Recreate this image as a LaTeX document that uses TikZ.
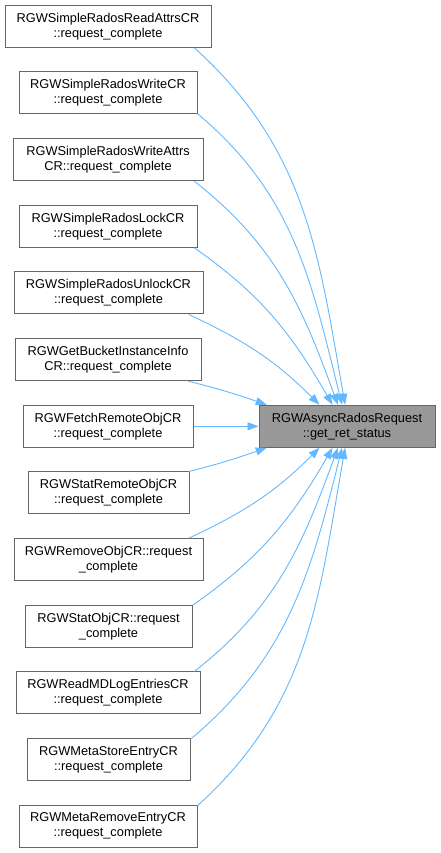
\documentclass[tikz,border=0pt]{standalone}
\usepackage{fontspec}
\setmainfont{Liberation Sans}
\usetikzlibrary{arrows.meta}
\definecolor{edgeblue}{HTML}{63B8FF}
\definecolor{boxgray}{HTML}{666666}
\definecolor{maingray}{HTML}{999999}

\begin{document}
\begin{tikzpicture}[x=1pt,y=1pt,
    caller/.style={draw=boxgray,line width=1pt,fill=white,align=center,inner sep=0pt,minimum height=42pt,font=\fontsize{12.8}{15}\selectfont},
    callee/.style={caller,fill=maingray},
    callarrow/.style={edgeblue,line width=0.9pt,-{Triangle[length=11pt,width=8pt]}}]
  \useasboundingbox (0,0) rectangle (440,853);
  % Callers
  \node[caller,minimum width=206pt] (readattrs) at (108,826.7) {RGWSimpleRadosReadAttrsCR\\::request\_complete};
  \node[caller,minimum width=178pt] (write) at (108,760) {RGWSimpleRadosWriteCR\\::request\_complete};
  \node[caller,minimum width=190pt] (writeattrs) at (108,693.3) {RGWSimpleRadosWriteAttrs\\CR::request\_complete};
  \node[caller,minimum width=178pt] (lock) at (108,626.7) {RGWSimpleRadosLockCR\\::request\_complete};
  \node[caller,minimum width=189pt] (unlock) at (108.5,560) {RGWSimpleRadosUnlockCR\\::request\_complete};
  \node[caller,minimum width=186pt] (bucketinfo) at (108,493.3) {RGWGetBucketInstanceInfo\\CR::request\_complete};
  \node[caller,minimum width=170pt] (fetchremote) at (108,426.7) {RGWFetchRemoteObjCR\\::request\_complete};
  \node[caller,minimum width=161pt] (statremote) at (108.5,360) {RGWStatRemoteObjCR\\::request\_complete};
  \node[caller,minimum width=189pt] (removeobj) at (108.5,293.3) {RGWRemoveObjCR::request\\\_complete};
  \node[caller,minimum width=167pt] (statobj) at (108.5,226.7) {RGWStatObjCR::request\\\_complete};
  \node[caller,minimum width=184pt] (readmdlog) at (108,160) {RGWReadMDLogEntriesCR\\::request\_complete};
  \node[caller,minimum width=163pt] (metastore) at (108.5,93.3) {RGWMetaStoreEntryCR\\::request\_complete};
  \node[caller,minimum width=178pt] (metaremove) at (108,26.7) {RGWMetaRemoveEntryCR\\::request\_complete};
  % Called function
  \node[callee,minimum width=176pt] (getretstatus) at (347,426.7) {RGWAsyncRadosRequest\\::get\_ret\_status};
  % Calls from above
  \draw[callarrow] (readattrs.-14) to[out=-42,in=100] (getretstatus.95);
  \draw[callarrow] (write.-13) to[out=-40,in=104] (getretstatus.103);
  \draw[callarrow] (writeattrs.-14) to[out=-38,in=110] (getretstatus.113);
  \draw[callarrow] (lock.-14) to[out=-35,in=120] (getretstatus.124);
  \draw[callarrow] (unlock.-15) to[out=-25,in=135] (getretstatus.142);
  \draw[callarrow] (bucketinfo.-15) to[out=-14,in=161] (getretstatus.165);
  \draw[callarrow] (fetchremote) -- (getretstatus);
  % Calls from below
  \draw[callarrow] (statremote.15) to[out=14,in=-161] (getretstatus.-165);
  \draw[callarrow] (removeobj.15) to[out=25,in=-135] (getretstatus.-142);
  \draw[callarrow] (statobj.14) to[out=35,in=-120] (getretstatus.-124);
  \draw[callarrow] (readmdlog.14) to[out=38,in=-110] (getretstatus.-113);
  \draw[callarrow] (metastore.14) to[out=40,in=-104] (getretstatus.-103);
  \draw[callarrow] (metaremove.13) to[out=42,in=-100] (getretstatus.-95);
\end{tikzpicture}
\end{document}
